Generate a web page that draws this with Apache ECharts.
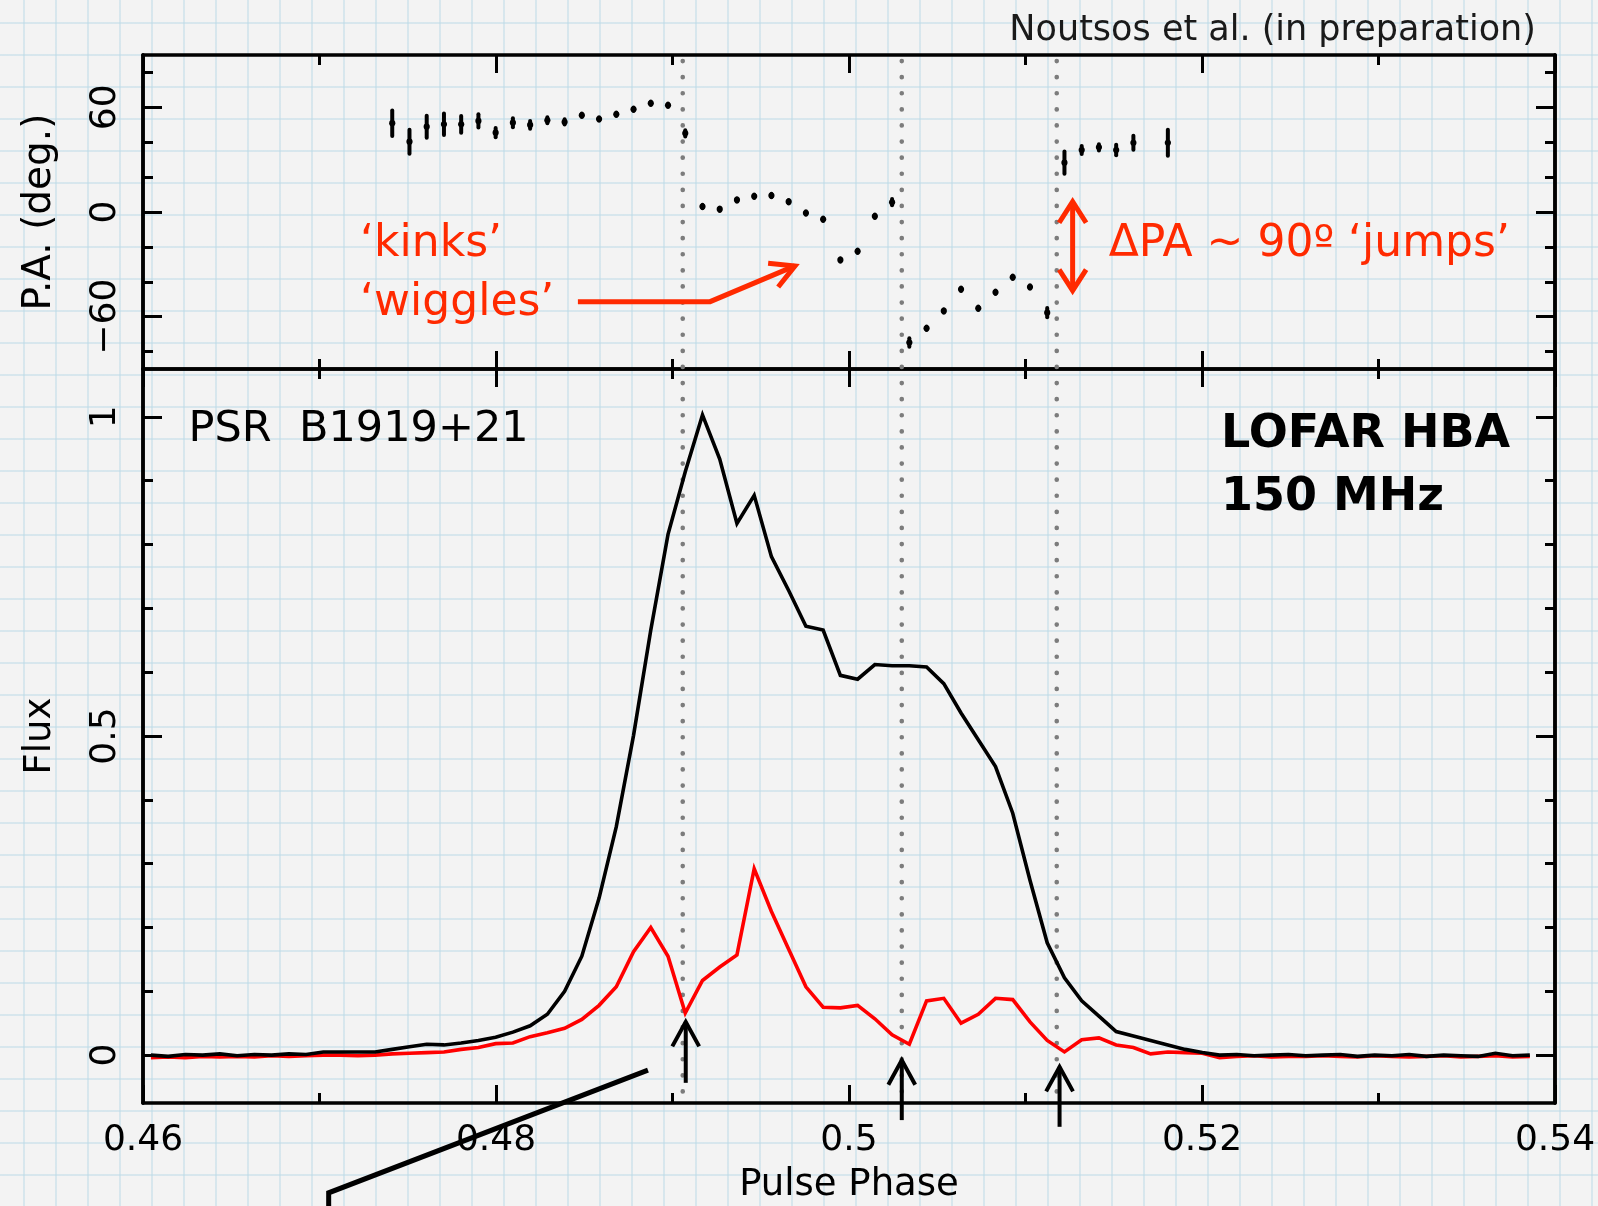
<!DOCTYPE html>
<html><head><meta charset="utf-8">
<script src="https://cdn.jsdelivr.net/npm/echarts@6.0.0/dist/echarts.min.js"></script>
<style>
html,body{margin:0;padding:0;}
body{width:1598px;height:1206px;overflow:hidden;background-color:#f3f3f3;
background-image:linear-gradient(90deg, rgba(188,218,231,0.5) 2px, transparent 2px),linear-gradient(180deg, rgba(188,218,231,0.5) 2px, transparent 2px);
background-size:32px 32px;background-position:23px 22px;}
#chart{width:1598px;height:1206px;}
</style></head><body><div id="chart"></div>
<script>
// ---------------- data ----------------
const phase = [0.460449,0.461426,0.462402,0.463379,0.464355,0.465332,0.466309,0.467285,0.468262,0.469238,
0.470215,0.471191,0.472168,0.473145,0.474121,0.475098,0.476074,0.477051,0.478027,0.479004,
0.479980,0.480957,0.481934,0.482910,0.483887,0.484863,0.485840,0.486816,0.487793,0.488770,
0.489746,0.490723,0.491699,0.492676,0.493652,0.494629,0.495605,0.496582,0.497559,0.498535,
0.499512,0.500488,0.501465,0.502441,0.503418,0.504395,0.505371,0.506348,0.507324,0.508301,
0.509277,0.510254,0.511230,0.512207,0.513184,0.514160,0.515137,0.516113,0.517090,0.518066,
0.519043,0.520020,0.520996,0.521973,0.522949,0.523926,0.524902,0.525879,0.526855,0.527832,
0.528809,0.529785,0.530762,0.531738,0.532715,0.533691,0.534668,0.535645,0.536621,0.537598,0.538574];
const fluxTotal = [0.000,-0.002,0.001,0.000,0.002,-0.001,0.001,0.000,0.002,0.001,
0.005,0.005,0.005,0.005,0.009,0.013,0.017,0.016,0.019,0.023,
0.028,0.036,0.046,0.064,0.100,0.155,0.246,0.358,0.501,0.666,
0.816,0.914,1.003,0.934,0.833,0.877,0.781,0.728,0.672,0.666,
0.595,0.589,0.612,0.610,0.610,0.608,0.582,0.536,0.494,0.452,
0.379,0.274,0.176,0.121,0.085,0.061,0.037,0.030,0.023,0.016,
0.009,0.004,0.000,0.001,-0.001,0.000,0.001,-0.001,0.000,0.001,
-0.002,0.000,-0.001,0.001,-0.002,0.000,-0.001,-0.002,0.003,-0.001,0.000];
const fluxLinear = [-0.004,-0.003,-0.004,-0.002,-0.003,-0.002,-0.003,-0.001,-0.002,-0.001,
0.000,0.000,-0.001,0.000,0.002,0.003,0.004,0.005,0.009,0.012,
0.018,0.019,0.029,0.035,0.042,0.056,0.078,0.107,0.162,0.200,
0.155,0.066,0.117,0.138,0.157,0.292,0.225,0.166,0.107,0.075,
0.074,0.078,0.057,0.032,0.017,0.085,0.089,0.050,0.064,0.089,
0.087,0.052,0.023,0.005,0.024,0.027,0.016,0.012,0.002,0.005,
0.004,0.003,-0.004,-0.002,-0.001,-0.003,-0.002,-0.002,-0.001,-0.002,
-0.003,-0.001,-0.002,-0.003,-0.002,-0.001,-0.003,-0.002,-0.001,-0.003,-0.002];

const paPhase = [0.474121,0.475098,0.476074,0.477051,0.478027,0.479004,0.479980,0.480957,0.481934,0.482910,
0.483887,0.484863,0.485840,0.486816,0.487793,0.488770,0.489746,0.490723,
0.491699,0.492676,0.493652,0.494629,0.495605,0.496582,0.497559,0.498535,0.499512,0.500488,0.501465,0.502441,
0.503418,0.504395,0.505371,0.506348,0.507324,0.508301,0.509277,0.510254,0.511230,
0.512207,0.513184,0.514160,0.515137,0.516113,0.518066];
const paAngle = [50.9,40.3,48.9,50.3,50.3,52.2,45.5,51.2,49.9,52.6,
51.6,55.4,53.3,56.0,58.9,62.3,61.2,45.1,
3.1,1.6,6.9,9.0,9.4,5.9,-0.6,-4.2,-27.5,-22.5,-2.5,5.6,
-74.8,-66.7,-56.7,-44.3,-55.2,-46.0,-37.4,-43.0,-57.7,
28.3,35.5,37.1,35.5,39.7,39.7];
const paError = [7.3,6.9,6.3,6.2,4.8,3.8,2.7,2.6,2.2,1.7,
1.5,1.0,1.0,1.0,1.0,1.0,1.0,1.8,
1.0,1.0,1.0,1.0,1.0,1.0,1.0,1.0,1.0,1.0,1.0,1.8,
2.4,1.0,1.0,1.0,1.0,1.0,1.0,1.0,2.6,
6.4,2.3,1.8,3.0,4.0,7.4];

const paMajorTicks = [-60, 0, 60];
const paMinorTicks = [-80, -40, -20, 20, 40, 80];
const fluxMajorTicks = [0, 0.5, 1];
const fluxMinorTicks = [0.1, 0.2, 0.3, 0.4, 0.6, 0.7, 0.8, 0.9];
const markerPhases = [0.49058, 0.50299, 0.51177];

// ---------------- styling ----------------
const BLACK = '#000';
const ANN_RED = '#ff2a00';
const axisLine = {show: true, onZero: false, lineStyle: {color: BLACK, width: 3.5}};
const tickStyle = {color: BLACK, width: 3};
const labelFont = {fontFamily: 'DejaVu Sans', fontSize: 36, color: BLACK};
const nameFont = {fontFamily: 'DejaVu Sans', fontSize: 37, color: BLACK};
const minus = v => v < 0 ? '\u2212' + (-v) : String(v);

function xAx(grid, pos, labels) {
  return {
    gridIndex: grid, type: 'value', position: pos, min: 0.46, max: 0.54, interval: 0.02,
    axisLine: axisLine,
    axisTick: {show: true, inside: true, length: 18, lineStyle: tickStyle},
    minorTick: {show: true, splitNumber: 2, length: 10, lineStyle: tickStyle},
    splitLine: {show: false}, minorSplitLine: {show: false},
    axisLabel: labels ? Object.assign({show: true, margin: 20, showMinLabel: true, showMaxLabel: true, hideOverlap: false}, labelFont) : {show: false},
    name: labels ? 'Pulse Phase' : '', nameLocation: 'middle', nameGap: 64, nameTextStyle: nameFont
  };
}
function yAx(grid, pos, min, max, ticks, len, labelOpts, name, nameSize) {
  return {
    gridIndex: grid, type: 'value', position: pos, min: min, max: max,
    axisLine: axisLine,
    axisTick: {show: true, inside: true, length: len, lineStyle: tickStyle, customValues: ticks},
    splitLine: {show: false},
    axisLabel: labelOpts ? Object.assign({show: true, rotate: 90, margin: 19, customValues: ticks, hideOverlap: false}, labelFont, labelOpts) : {show: false},
    name: name || '', nameLocation: 'middle', nameRotate: 90, nameGap: 84,
    nameTextStyle: Object.assign({}, nameFont, nameSize ? {fontSize: nameSize} : {})
  };
}

const chart = echarts.init(document.getElementById('chart'), null, {renderer: 'canvas', width: 1598, height: 1206});

chart.setOption({
  animation: false,
  backgroundColor: 'transparent',
  grid: [
    {left: 143, right: 43, top: 55, height: 314, containLabel: false, outerBoundsMode: 'none'},
    {left: 143, right: 43, top: 369, height: 734, containLabel: false, outerBoundsMode: 'none'}
  ],
  xAxis: [xAx(0, 'bottom', false), xAx(0, 'top', false), xAx(1, 'bottom', true), xAx(1, 'top', false)],
  yAxis: [
    yAx(0, 'left', -90, 90, paMajorTicks, 19, {formatter: minus}, 'P.A. (deg.)', 39),
    yAx(0, 'left', -90, 90, paMinorTicks, 10, null),
    yAx(0, 'right', -90, 90, paMajorTicks, 19, null),
    yAx(0, 'right', -90, 90, paMinorTicks, 10, null),
    yAx(1, 'left', -0.075, 1.075, fluxMajorTicks, 19, {}, 'Flux'),
    yAx(1, 'left', -0.075, 1.075, fluxMinorTicks, 10, null),
    yAx(1, 'right', -0.075, 1.075, fluxMajorTicks, 19, null),
    yAx(1, 'right', -0.075, 1.075, fluxMinorTicks, 10, null)
  ],
  series: [
    {
      type: 'custom', xAxisIndex: 0, yAxisIndex: 0, z: 4,
      data: paPhase.map((p, i) => [p, paAngle[i], paError[i]]),
      renderItem: function (params, api) {
        const c = api.coord([api.value(0), api.value(1)]);
        const t = api.coord([api.value(0), api.value(1) + api.value(2)]);
        const b = api.coord([api.value(0), api.value(1) - api.value(2)]);
        return {type: 'group', children: [
          {type: 'line', shape: {x1: c[0], y1: t[1], x2: c[0], y2: b[1]}, style: {stroke: BLACK, lineWidth: 4, lineCap: 'round'}},
          {type: 'circle', shape: {cx: c[0], cy: c[1], r: 3.1}, style: {fill: BLACK}}
        ]};
      }
    },
    {
      type: 'line', xAxisIndex: 2, yAxisIndex: 4, showSymbol: false, symbol: 'none', z: 3,
      data: phase.map((p, i) => [p, fluxLinear[i]]),
      lineStyle: {color: '#ff0000', width: 3.6, join: 'miter'}, itemStyle: {color: '#ff0000'}
    },
    {
      type: 'line', xAxisIndex: 2, yAxisIndex: 4, showSymbol: false, symbol: 'none', z: 4,
      data: phase.map((p, i) => [p, fluxTotal[i]]),
      lineStyle: {color: BLACK, width: 3.6, join: 'miter'}, itemStyle: {color: BLACK}
    }
  ]
});

// ---------------- annotations (placed in data coordinates) ----------------
const ann = {
  wigglesArrow: [[0.48464, -51.4], [0.49213, -51.4], [0.49694, -30.9]],
  jumpArrow: {phase: 0.51267, from: -45.1, to: 5.9},
  upArrows: [[0.49075, -0.0434, 0.0522], [0.50299, -0.1018, -0.0078], [0.51193, -0.1123, -0.0183]],
  pointer: [[0.48861, -0.0235], [0.47052, -0.2157], [0.47052, -0.27]],
  texts: [
    {grid: 0, at: [0.4723, -18.9], text: '\u2018kinks\u2019', font: '44px "DejaVu Sans"', fill: ANN_RED, align: 'left'},
    {grid: 0, at: [0.4723, -52.6], text: '\u2018wiggles\u2019', font: '44px "DejaVu Sans"', fill: ANN_RED, align: 'left'},
    {grid: 0, at: [0.51471, -18.9], text: '\u0394PA ~ 90\u00ba \u2018jumps\u2019', font: '44px "DejaVu Sans"', fill: ANN_RED, align: 'left'},
    {grid: 0, at: [0.53892, 104.0], text: 'Noutsos et al. (in preparation)', font: '35px "DejaVu Sans"', fill: '#1a1a1a', align: 'right'},
    {grid: 1, at: [0.46258, 0.980], text: 'PSR  B1919+21', font: '43px "DejaVu Sans"', fill: BLACK, align: 'left'},
    {grid: 1, at: [0.52108, 0.972], text: 'LOFAR HBA', font: 'bold 46px "DejaVu Sans"', fill: BLACK, align: 'left'},
    {grid: 1, at: [0.52108, 0.873], text: '150 MHz', font: 'bold 46px "DejaVu Sans"', fill: BLACK, align: 'left'}
  ]
};

function px(grid, p) {
  return grid === 0 ? chart.convertToPixel({xAxisIndex: 0, yAxisIndex: 0}, p)
                    : chart.convertToPixel({xAxisIndex: 2, yAxisIndex: 4}, p);
}
function head(tip, from, len, spread) {
  const a = Math.atan2(from[1] - tip[1], from[0] - tip[0]);
  return [[tip[0] + len * Math.cos(a + spread), tip[1] + len * Math.sin(a + spread)], tip,
          [tip[0] + len * Math.cos(a - spread), tip[1] + len * Math.sin(a - spread)]];
}
const g = [];
// dotted vertical lines across both panels
markerPhases.forEach(function (m) {
  const t = px(0, [m, 90]), b = px(1, [m, -0.075]);
  g.push({type: 'line', z: 1, silent: true, shape: {x1: t[0], y1: t[1] + 6, x2: b[0], y2: b[1]},
    style: {stroke: '#7c7c7c', lineWidth: 4.6, lineDash: [0.1, 16], lineCap: 'round'}});
});
// red bent arrow
const wa = ann.wigglesArrow.map(p => px(0, p));
g.push({type: 'polyline', z: 10, shape: {points: wa}, style: {stroke: ANN_RED, lineWidth: 5, fill: 'none', lineJoin: 'miter'}});
g.push({type: 'polyline', z: 10, shape: {points: head(wa[2], wa[1], 27, 0.5)}, style: {stroke: ANN_RED, lineWidth: 5, fill: 'none', lineJoin: 'miter'}});
// red double arrow
const ja = px(0, [ann.jumpArrow.phase, ann.jumpArrow.from]), jb = px(0, [ann.jumpArrow.phase, ann.jumpArrow.to]);
g.push({type: 'line', z: 10, shape: {x1: ja[0], y1: ja[1], x2: jb[0], y2: jb[1]}, style: {stroke: ANN_RED, lineWidth: 5}});
g.push({type: 'polyline', z: 10, shape: {points: head(jb, ja, 25, 0.57)}, style: {stroke: ANN_RED, lineWidth: 5, fill: 'none'}});
g.push({type: 'polyline', z: 10, shape: {points: head(ja, jb, 25, 0.57)}, style: {stroke: ANN_RED, lineWidth: 5, fill: 'none'}});
// black up arrows
ann.upArrows.forEach(function (a) {
  const b = px(1, [a[0], a[1]]), t = px(1, [a[0], a[2]]);
  g.push({type: 'line', z: 10, shape: {x1: b[0], y1: b[1], x2: t[0], y2: t[1]}, style: {stroke: BLACK, lineWidth: 4}});
  g.push({type: 'polyline', z: 10, shape: {points: head(t, b, 28, 0.5)}, style: {stroke: BLACK, lineWidth: 4, fill: 'none'}});
});
// black pointer line
g.push({type: 'polyline', z: 10, shape: {points: ann.pointer.map(p => px(1, p))}, style: {stroke: BLACK, lineWidth: 5, fill: 'none', lineJoin: 'miter'}});
// texts
ann.texts.forEach(function (t) {
  const p = px(t.grid, t.at);
  g.push({type: 'text', z: 11, x: p[0], y: p[1], style: {text: t.text, font: t.font, fill: t.fill,
    align: t.align, textAlign: t.align, verticalAlign: 'middle', textVerticalAlign: 'middle'}});
});
chart.setOption({graphic: {elements: g}});
</script></body></html>
